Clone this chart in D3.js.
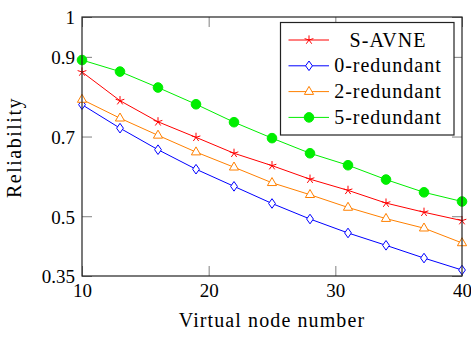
<!DOCTYPE html>
<html>
<head>
<meta charset="utf-8">
<script src="https://cdn.jsdelivr.net/npm/d3@7"></script>
<style>
  body { margin: 0; background: #fff; }
  svg { display: block; }
</style>
</head>
<body>
<script>
const nodes = [10, 13, 16, 19, 22, 25, 28, 31, 34, 37, 40];
const sAvne = [0.862, 0.79, 0.737, 0.698, 0.658, 0.627, 0.593, 0.565, 0.533, 0.51, 0.489];
const red0 = [0.78, 0.721, 0.667, 0.618, 0.575, 0.532, 0.493, 0.458, 0.427, 0.395, 0.365];
const red2 = [0.793, 0.746, 0.703, 0.661, 0.623, 0.584, 0.554, 0.522, 0.494, 0.47, 0.433];
const red5 = [0.892, 0.863, 0.823, 0.781, 0.736, 0.696, 0.658, 0.628, 0.592, 0.56, 0.537];
const seriesNames = ['S-AVNE', '0-redundant', '2-redundant', '5-redundant'];
const xTicks = [10, 20, 30, 40];
const yTicks = [0.35, 0.5, 0.7, 0.9, 1];
const yTickLabels = ['0.35', '0.5', '0.7', '0.9', '1'];

const series = [
    { name: seriesNames[0], values: sAvne, color: '#ff0000', mark: 'star' },
    { name: seriesNames[1], values: red0, color: '#0000ff', mark: 'diamond' },
    { name: seriesNames[2], values: red2, color: '#ff8000', mark: 'triangle' },
    { name: seriesNames[3], values: red5, color: '#00ee00', mark: 'circle' }
];

const svgWidth = 471;
const svgHeight = 338;
const margin = { top: 17, bottom: 62, left: 82, right: 9 };
const width = svgWidth - margin.left - margin.right;
const height = svgHeight - margin.top - margin.bottom;
const font = '"Liberation Serif", "Times New Roman", serif';

const svg = d3.select('body')
    .append('svg')
    .attr('width', svgWidth)
    .attr('height', svgHeight)
    .append('g')
    .attr('transform', `translate(${margin.left}, ${margin.top})`);

const x = d3.scaleLinear().domain([10, 40]).range([0, width]);
const y = d3.scaleLinear().domain([0.35, 1]).range([height, 0]);

// ticks on all four sides, pointing inwards
const styleAxis = g => {
    g.select('.domain').remove();
    g.selectAll('.tick line').attr('stroke', '#808080').attr('stroke-width', 1);
    g.selectAll('text')
        .style('font-family', font)
        .style('font-size', '19px')
        .attr('fill', '#000');
};

svg.append('g')
    .call(d3.axisLeft(y).tickValues(yTicks).tickFormat((d, i) => yTickLabels[i])
        .tickSizeInner(-10).tickSizeOuter(0).tickPadding(7))
    .call(styleAxis)
    .selectAll('text').attr('dy', '0.36em');

svg.append('g')
    .attr('transform', `translate(${width},0)`)
    .call(d3.axisRight(y).tickValues(yTicks).tickFormat('')
        .tickSizeInner(-10).tickSizeOuter(0))
    .call(styleAxis);

svg.append('g')
    .attr('transform', `translate(0,${height})`)
    .call(d3.axisBottom(x).tickValues(xTicks).tickFormat(d3.format('d'))
        .tickSizeInner(-10).tickSizeOuter(0).tickPadding(7))
    .call(styleAxis)
    .selectAll('text').attr('dy', '0.74em');

svg.append('g')
    .call(d3.axisTop(x).tickValues(xTicks).tickFormat('')
        .tickSizeInner(-10).tickSizeOuter(0))
    .call(styleAxis);

// marks
const markPath = (type) => {
    if (type === 'star') {
        const r = 4.6;
        let p = '';
        for (let k = 0; k < 5; k++) {
            const a = -Math.PI / 2 + k * 2 * Math.PI / 5;
            p += `M0,0L${r * Math.cos(a)},${r * Math.sin(a)}`;
        }
        return p;
    }
    if (type === 'diamond') return 'M0,-4.8L3.4,0L0,4.8L-3.4,0Z';
    if (type === 'triangle') return 'M0,-5.2L4.6,2.8L-4.6,2.8Z';
    return d3.symbol().type(d3.symbolCircle).size(Math.PI * 4.8 * 4.8)();
};

const markFill = s => s.mark === 'circle' ? s.color : (s.mark === 'star' ? 'none' : '#fff');

const line = d3.line()
    .x((d, i) => x(nodes[i]))
    .y(d => y(d));

series.forEach(s => {
    svg.append('path')
        .datum(s.values)
        .attr('fill', 'none')
        .attr('stroke', s.color)
        .attr('stroke-width', 1)
        .attr('d', line);

    svg.selectAll(null)
        .data(s.values)
        .enter()
        .append('path')
        .attr('transform', (d, i) => `translate(${x(nodes[i])},${y(d)})`)
        .attr('d', markPath(s.mark))
        .attr('fill', markFill(s))
        .attr('stroke', s.color)
        .attr('stroke-width', 1);
});

// frame
svg.append('rect')
    .attr('width', width)
    .attr('height', height)
    .attr('fill', 'none')
    .attr('stroke', '#222')
    .attr('stroke-width', 1.2);

// legend
const legend = svg.append('g')
    .attr('transform', `translate(${280.5 - margin.left}, ${22.5 - margin.top})`);

legend.append('rect')
    .attr('width', 173.5)
    .attr('height', 112.5)
    .attr('fill', '#fff')
    .attr('stroke', '#222')
    .attr('stroke-width', 1.2);

series.forEach((s, i) => {
    const row = legend.append('g')
        .attr('transform', `translate(0, ${17.5 + i * 25.8})`);
    row.append('line')
        .attr('x1', 8).attr('x2', 48.5)
        .attr('stroke', s.color)
        .attr('stroke-width', 1);
    row.append('path')
        .attr('transform', 'translate(28.5,0)')
        .attr('d', markPath(s.mark))
        .attr('fill', markFill(s))
        .attr('stroke', s.color)
        .attr('stroke-width', 1);
    row.append('text')
        .attr('x', 107.5)
        .attr('y', 6.5)
        .attr('text-anchor', 'middle')
        .style('font-family', font)
        .style('font-size', '20px')
        .style('letter-spacing', '1px')
        .text(s.name);
});

// axis titles
svg.append('text')
    .attr('x', width / 2)
    .attr('y', height + 51)
    .attr('text-anchor', 'middle')
    .style('font-family', font)
    .style('font-size', '20px')
    .style('letter-spacing', '1.1px')
    .text('Virtual node number');

svg.append('text')
    .attr('transform', `translate(${21 - margin.left}, ${height / 2 + 1}) rotate(-90)`)
    .attr('text-anchor', 'middle')
    .style('font-family', font)
    .style('font-size', '20px')
    .style('letter-spacing', '1.5px')
    .text('Reliability');
</script>
</body>
</html>
